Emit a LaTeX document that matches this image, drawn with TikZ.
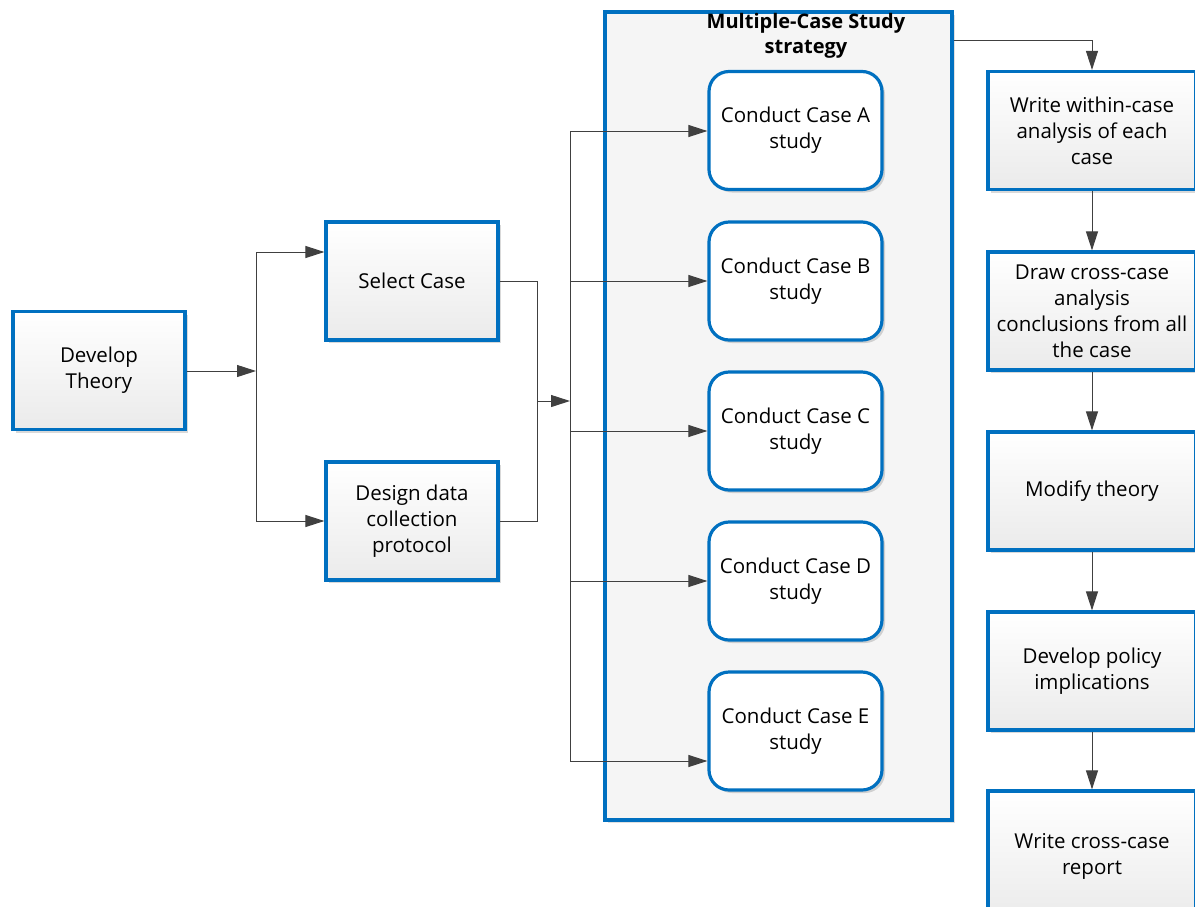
\documentclass[tikz,border=0pt]{standalone}
\usepackage{fontspec}
\setmainfont{Open Sans}
\usetikzlibrary{arrows.meta,shadows,calc}
\definecolor{bblue}{HTML}{0070C0}
\definecolor{lgray}{HTML}{404040}
\tikzset{
  box/.style={draw=bblue, line width=3.2pt, top color=white, bottom color=black!8,
    minimum width=172pt, minimum height=118pt, align=center, inner sep=2pt,
    font=\fontsize{20.5}{26}\selectfont,
    drop shadow={shadow xshift=3pt, shadow yshift=-3pt, opacity=0.15, fill=black}},
  casebox/.style={draw=bblue, line width=3.2pt, fill=white, rounded corners=20pt,
    minimum width=173pt, minimum height=118pt, align=center, inner sep=2pt,
    font=\fontsize{20.5}{26}\selectfont,
    drop shadow={shadow xshift=3pt, shadow yshift=-3pt, opacity=0.15, fill=black}},
  rbox/.style={box, minimum width=208pt},
  conn/.style={draw=lgray, line width=1pt},
  arr/.style={conn, -{Triangle[length=19pt,width=12pt]}},
}
\begin{document}
\begin{tikzpicture}[x=1pt,y=-1pt]
\useasboundingbox (0,0) rectangle (1195,906);
\clip (0,0) rectangle (1195,906);
% container
\node[draw=bblue, line width=3.2pt, fill=black!4, minimum width=347pt, minimum height=808pt,
  drop shadow={shadow xshift=3pt, shadow yshift=-3pt, opacity=0.12, fill=black}] (cont) at (778.5,416) {};
\node[font=\bfseries\fontsize{20}{25}\selectfont, align=center] (title) at (806,36) {Multiple-Case Study\\strategy};

% left boxes
\node[box] (dev) at (99,370.5) {Develop\\Theory};
\node[box] (sel) at (412,281) {Select Case};
\node[box] (des) at (412,521) {Design data\\collection\\protocol};

% case boxes
\node[casebox] (ca) at (795.5,130.5) {Conduct Case A\\study};
\node[casebox] (cb) at (795.5,281) {Conduct Case B\\study};
\node[casebox] (cc) at (795.5,431) {Conduct Case C\\study};
\node[casebox] (cd) at (795.5,581) {Conduct Case D\\study};
\node[casebox] (ce) at (795.5,731) {Conduct Case E\\study};

% right boxes
\node[rbox] (r1) at (1092,130.5) {Write within-case\\analysis of each\\case};
\node[rbox] (r2) at (1092,311) {Draw cross-case\\analysis\\conclusions from all\\the case};
\node[rbox] (r3) at (1092,491) {Modify theory};
\node[rbox] (r4) at (1092,671) {Develop policy\\implications};
\node[rbox, minimum height=130pt] (r5) at (1092,856) {Write cross-case\\report};

% junctions
\coordinate (j1) at (256,371);
\coordinate (j1t) at (256,252);
\coordinate (j1b) at (256,521);
\coordinate (j2t) at (537,281);
\coordinate (j2b) at (537,521);
\coordinate (j2m) at (537,401);
\coordinate (j3) at (570,401);
\coordinate (j3t) at (570,131);
\coordinate (j3b) at (570,761);
\coordinate (j4) at (1092,40);

\draw[arr] (dev.east |- j1) -- (j1);
\draw[conn] (j1t) -- (j1b);
\draw[arr] (j1t) -- (j1t -| sel.west);
\draw[arr] (j1b) -- (j1b -| des.west);

\draw[conn] (sel.east) -- (j2t) -- (j2b) -- (des.east);
\draw[arr] (j2m) -- (j3);
\draw[conn] (j3t) -- (j3b);
\draw[arr] (j3t) -- (j3t -| ca.west);
\draw[arr] (j3 |- cb.west) -- (cb.west);
\draw[arr] (j3 |- cc.west) -- (cc.west);
\draw[arr] (j3 |- cd.west) -- (cd.west);
\draw[arr] (j3b) -- (j3b -| ce.west);

\draw[arr] (cont.east |- j4) -- (j4) -- (r1.north);
\draw[arr] (r1.south) -- (r2.north);
\draw[arr] (r2.south) -- (r3.north);
\draw[arr] (r3.south) -- (r4.north);
\draw[arr] (r4.south) -- (r5.north);
\end{tikzpicture}
\end{document}
